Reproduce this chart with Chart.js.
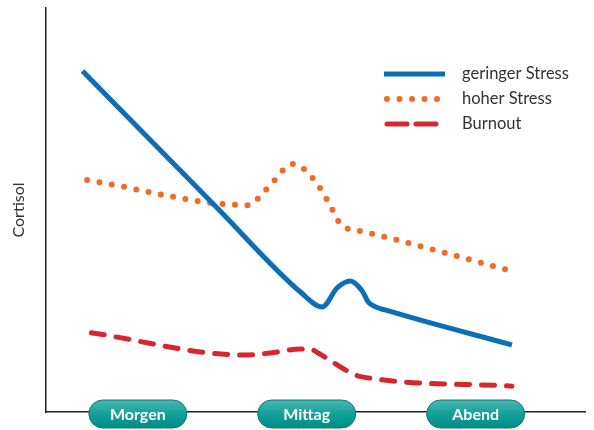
<!DOCTYPE html>
<html>
<head>
<meta charset="utf-8">
<script src="https://cdn.jsdelivr.net/npm/chart.js@4/dist/chart.umd.min.js"></script>
<style>
  html, body { margin: 0; padding: 0; background: #fff; }
  #wrap { width: 594px; height: 430px; }
</style>
</head>
<body>
<div id="wrap"><canvas id="cortisolChart"></canvas></div>
<script>
// Tageszeiten (Stunden) für die Beschriftung unten
const tageszeiten = ['Morgen', 'Mittag', 'Abend'];
const tageszeitStunden = [8, 12, 16];

const geringStunden = [6.69, 9.88, 11.85, 12.37, 12.72, 13.03, 13.31, 13.46, 13.60, 13.98, 16.86];
const geringWerte   = [84.4, 50.5, 29.7, 26.0, 30.7, 32.4, 30.0, 27.2, 26.2, 24.9, 16.6];

const hochStunden = [6.80, 10.61, 11.07, 11.68, 12.18, 12.51, 12.82, 13.36, 16.86];
const hochWerte   = [57.4, 51.2, 55.4, 61.4, 57.4, 52.0, 46.3, 44.6, 34.9];

const burnoutStunden = [6.90, 10.50, 11.14, 11.85, 12.08, 12.27, 13.10, 13.31, 16.86];
const burnoutWerte   = [19.6, 14.1, 14.6, 15.6, 15.6, 14.6, 9.4, 8.7, 6.4];

const FONT = 'Lato, "Open Sans", sans-serif';

function punkte(xs, ys) {
    return xs.map((x, i) => ({ x: x, y: ys[i] }));
}

// Legende oben rechts (Linienmuster + Text)
const legendePlugin = {
    id: 'legende',
    afterDraw(chart) {
        const ctx = chart.ctx;
        const muster = [[], [0, 12.5], [20, 9]];
        chart.data.datasets.forEach((ds, i) => {
            const y = 74 + i * 25;
            ctx.save();
            ctx.strokeStyle = ds.borderColor;
            ctx.lineWidth = ds.borderWidth;
            ctx.lineCap = i === 0 ? 'butt' : 'round';
            ctx.setLineDash(muster[i]);
            ctx.beginPath();
            ctx.moveTo(i === 0 ? 384 : 387, y);
            ctx.lineTo(445, y);
            ctx.stroke();
            ctx.restore();

            ctx.save();
            ctx.fillStyle = '#333';
            ctx.font = '16.5px ' + FONT;
            ctx.textBaseline = 'middle';
            ctx.fillText(ds.label, 462, y);
            ctx.restore();
        });
    }
};

// Grüne "Pillen" mit den Tageszeiten auf der x-Achse
const pillenPlugin = {
    id: 'pillen',
    afterDraw(chart) {
        const ctx = chart.ctx;
        const xScale = chart.scales.x;
        const yMitte = chart.chartArea.bottom + 2;
        const b = 98, h = 28, r = 14;
        tageszeiten.forEach((name, i) => {
            const xm = xScale.getPixelForValue(tageszeitStunden[i]);
            const x0 = xm - b / 2, y0 = yMitte - h / 2;
            ctx.save();
            const grad = ctx.createLinearGradient(0, y0, 0, y0 + h);
            grad.addColorStop(0, '#4bb8b1');
            grad.addColorStop(0.5, '#12a098');
            grad.addColorStop(1, '#008c85');
            ctx.beginPath();
            ctx.roundRect(x0, y0, b, h, r);
            ctx.fillStyle = grad;
            ctx.fill();
            ctx.lineWidth = 1;
            ctx.strokeStyle = '#0b7c76';
            ctx.stroke();
            ctx.fillStyle = '#fff';
            ctx.font = 'bold 16px ' + FONT;
            ctx.textAlign = 'center';
            ctx.textBaseline = 'middle';
            ctx.fillText(name, xm, yMitte + 1);
            ctx.restore();
        });
    }
};

new Chart(document.getElementById('cortisolChart'), {
    type: 'line',
    data: {
        datasets: [
            {
                label: 'geringer Stress',
                data: punkte(geringStunden, geringWerte),
                borderColor: '#0b6fb8',
                borderWidth: 5,
                cubicInterpolationMode: 'monotone',
                pointRadius: 0
            },
            {
                label: 'hoher Stress',
                data: punkte(hochStunden, hochWerte),
                borderColor: '#f26a24',
                borderWidth: 6,
                borderDash: [0, 12.5],
                borderCapStyle: 'round',
                cubicInterpolationMode: 'monotone',
                pointRadius: 0
            },
            {
                label: 'Burnout',
                data: punkte(burnoutStunden, burnoutWerte),
                borderColor: '#d7262e',
                borderWidth: 5,
                borderDash: [13, 12],
                borderCapStyle: 'round',
                cubicInterpolationMode: 'monotone',
                pointRadius: 0
            }
        ]
    },
    options: {
        responsive: true,
        maintainAspectRatio: false,
        animation: false,
        layout: { padding: { left: 0, top: 8, right: 9, bottom: 18 } },
        scales: {
            x: {
                type: 'linear',
                min: 5.83,
                max: 18.59,
                grid: { display: false, drawTicks: false },
                ticks: { display: false },
                border: { display: true, color: '#222', width: 1.5 }
            },
            y: {
                min: 0,
                max: 100,
                grid: { display: false, drawTicks: false },
                ticks: { display: false },
                border: { display: true, color: '#222', width: 1.5 },
                title: {
                    display: true,
                    text: 'Cortisol',
                    color: '#333',
                    font: { family: FONT, size: 16 },
                    padding: { top: 9, bottom: 18 }
                }
            }
        },
        plugins: {
            legend: { display: false },
            tooltip: { enabled: false }
        }
    },
    plugins: [legendePlugin, pillenPlugin]
});
</script>
</body>
</html>
